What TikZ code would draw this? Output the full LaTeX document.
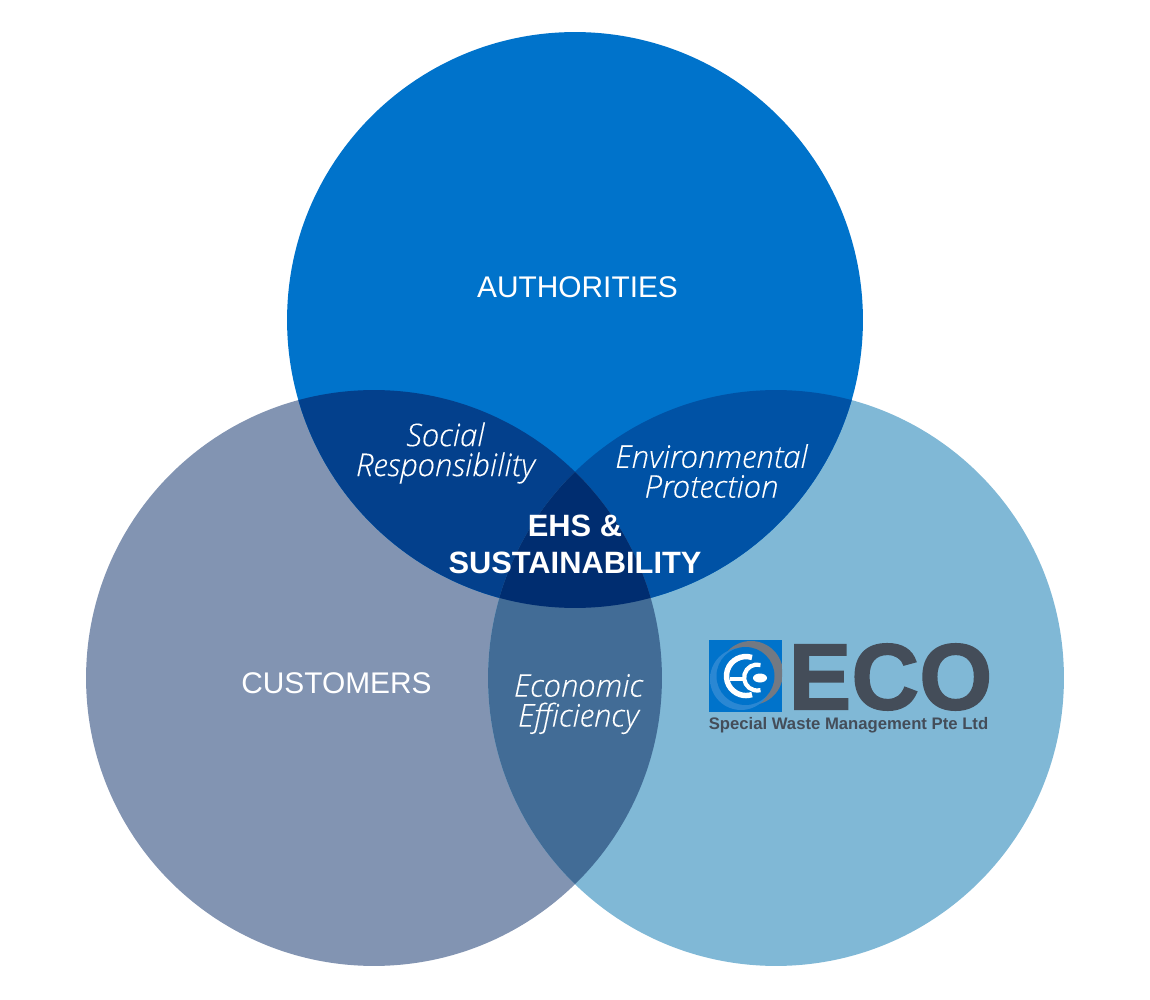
\documentclass[tikz,border=0pt]{standalone}
\usepackage{fontspec}
\setmainfont{Liberation Sans}
\newfontfamily\italicfont[ItalicFeatures={FakeBold=0.2}]{Open Sans Light}
\newfontfamily\ecofont[FakeBold=1.6]{Liberation Sans Bold}
\definecolor{top_blue}{HTML}{0073CB}
\definecolor{left_blue}{HTML}{8294B2}
\definecolor{right_blue}{HTML}{80B8D6}
\definecolor{top_left}{HTML}{03408C}
\definecolor{top_right}{HTML}{0052A5}
\definecolor{left_right}{HTML}{426C96}
\definecolor{all_blue}{HTML}{002D70}
\definecolor{logo_grey}{HTML}{444D59}
\definecolor{logo_glow}{HTML}{2A87D3}
\pgfdeclareradialshading{grey_edge}{\pgfpoint{0bp}{0bp}}{color(0bp)=(logo_grey!75); color(25bp)=(logo_grey!75); color(50bp)=(top_blue); color(100bp)=(top_blue)}
\pgfdeclareradialshading{light_edge}{\pgfpoint{0bp}{0bp}}{color(0bp)=(logo_glow); color(30bp)=(logo_glow); color(50bp)=(top_blue); color(100bp)=(top_blue)}
\begin{document}
\begin{tikzpicture}[x=0.02cm,y=-0.02cm,
           circle_label/.style={text=white,font=\fontsize{17}{20}\selectfont},
           overlap_label/.style={text=white,align=center,font=\italicfont\itshape\fontsize{17.8}{17}\selectfont},
           centre_label/.style={text=white,align=center,font=\bfseries\fontsize{17.55}{21}\selectfont},
           logo_text/.style={text=logo_grey,inner sep=0pt},
           logo_line/.style={draw=white}]
            \useasboundingbox (0,0) rectangle (1150,1000);
            % the three circles
            \coordinate (c_top) at (575,320);
            \coordinate (c_left) at (374,678);
            \coordinate (c_right) at (776,678);
            \fill[left_blue] (c_left) circle[radius=5.76cm];
            \fill[right_blue] (c_right) circle[radius=5.76cm];
            \fill[top_blue] (c_top) circle[radius=5.76cm];
            % overlaps
            \begin{scope}
                \clip (c_top) circle[radius=5.76cm];
                \fill[top_left] (c_left) circle[radius=5.76cm];
                \fill[top_right] (c_right) circle[radius=5.76cm];
            \end{scope}
            \begin{scope}
                \clip (c_left) circle[radius=5.76cm];
                \fill[left_right] (c_right) circle[radius=5.76cm];
                \clip (c_right) circle[radius=5.76cm];
                \fill[all_blue] (c_top) circle[radius=5.76cm];
            \end{scope}
            % labels
            \node[circle_label] (authorities) at (577.5,287) {AUTHORITIES};
            \node[circle_label] (customers) at (336.5,683) {CUSTOMERS};
            \node[overlap_label] (social) at (445.5,453) {Social\\Responsibility};
            \node[overlap_label] (environmental) at (711.5,471) {Environmental\\Protection};
            \node[overlap_label] (economic) at (578.5,704) {Economic\\Efficiency};
            \node[centre_label] (ehs) at (575,544) {EHS \&\\SUSTAINABILITY};
            % logo
            \fill[top_blue] (709,640) rectangle (782,712);
            \begin{scope}
                \clip (709,640) rectangle (782,712);
                \shade[shading=grey_edge] (751,673) circle[radius=0.64cm];
                \shade[shading=light_edge] (741,679) circle[radius=0.62cm];
                \fill[top_blue] (745.5,676) circle[radius=0.58cm];
            \end{scope}
            \draw[logo_line,line width=3.1pt] (752,657.5) arc[start angle=72,end angle=288,radius=0.39cm];
            \draw[logo_line,line width=2pt] (730,679) -- (746,679);
            \draw[logo_line,line width=2.4pt] (760.5,665) arc[start angle=75,end angle=285,radius=0.26cm];
            \fill[white] (760,678) ellipse[x radius=0.14cm,y radius=0.09cm];
            \node[logo_text,font=\ecofont\fontsize{53.5}{53}\selectfont] (eco) at (890.5,677) {ECO};
            \node[logo_text,font=\bfseries\fontsize{9.5}{11}\selectfont] (company) at (848.5,725) {Special Waste Management Pte Ltd};
        \end{tikzpicture}
\end{document}
